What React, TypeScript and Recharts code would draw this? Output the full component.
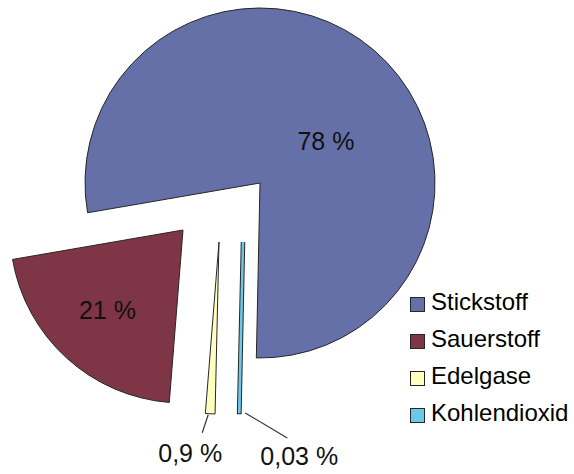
import { PieChart, Pie, Cell, Legend } from 'recharts'

const gases = ['Stickstoff', 'Sauerstoff', 'Edelgase', 'Kohlendioxid']
const shares = [78, 21, 0.9, 0.03]
const shareLabels = ['78 %', '21 %', '0,9 %', '0,03 %']

const colors = ['#6670A8', '#7E3545', '#FFFFBF', '#6CC8EA']
const outline = '#262626'
const font = '"Liberation Sans", Arial, sans-serif'

const data = gases.map((name, i) => ({ name, value: shares[i] }))

// each slice is pulled out on its own, so every slice has its own tip
const tips = [
  { x: 260, y: 183 },
  { x: 183, y: 230 },
  { x: 219, y: 242 },
  { x: 243, y: 242 },
]
const radii = [175, 173, 172, 170]

const START = -91.2
const RAD = Math.PI / 180

// big slices get the label inside (radius + turn away from the mid angle)
const inside: Record<number, { r: number; turn: number }> = {
  0: { r: 78, turn: -17 },
  1: { r: 110, turn: -1 },
}
// thin slices get a leader line from the rim down to the text
const leaders: Record<number, { sx: number; sy: number; ex: number; ey: number; tx: number; ty: number }> = {
  2: { sx: -2, sy: 1, ex: -8, ey: 19, tx: -12, ty: 29 },
  3: { sx: 6, sy: 1, ex: 48, ey: 26, tx: 12, ty: 27 },
}

const polar = (cx: number, cy: number, r: number, angle: number) => ({
  x: cx + Math.cos(-angle * RAD) * r,
  y: cy + Math.sin(-angle * RAD) * r,
})

const sliceLabel = (slice: number) => (props: any) => {
  const { cx, cy, midAngle, outerRadius, index } = props
  if (index !== slice) return null
  const inner = inside[slice]
  if (inner) {
    const p = polar(cx, cy, inner.r, midAngle + inner.turn)
    return (
      <text x={p.x} y={p.y} textAnchor="middle" dominantBaseline="central" fill="#111" fontSize={25} fontFamily={font}>
        {shareLabels[slice]}
      </text>
    )
  }
  const l = leaders[slice]
  const rim = polar(cx, cy, outerRadius, midAngle)
  const ex = rim.x + l.ex
  const ey = rim.y + l.ey
  return (
    <g>
      <line x1={rim.x + l.sx} y1={rim.y + l.sy} x2={ex} y2={ey} stroke="#333" strokeWidth={1.2} />
      <text x={ex + l.tx} y={ey + l.ty} textAnchor="middle" fill="#111" fontSize={25} fontFamily={font}>
        {shareLabels[slice]}
      </text>
    </g>
  )
}

const renderLegend = () => (
  <div style={{ fontFamily: font, fontSize: 24, color: '#000' }}>
    {gases.map((g, i) => (
      <div key={g} style={{ display: 'flex', alignItems: 'center', height: 37 }}>
        <span
          style={{
            display: 'inline-block',
            width: 13,
            height: 13,
            marginTop: 6,
            marginRight: 6,
            background: colors[i],
            border: `1.5px solid ${outline}`,
          }}
        />
        <span style={{ lineHeight: '37px', whiteSpace: 'nowrap' }}>{g}</span>
      </div>
    ))}
  </div>
)

export default function App() {
  return (
    <div style={{ position: 'absolute', left: 0, top: 0, width: 574, height: 474, background: '#fff' }}>
      <PieChart width={574} height={474} margin={{ top: 0, right: 0, bottom: 0, left: 0 }}>
        {gases.map((g, slice) => (
          <Pie
            key={g}
            data={data}
            dataKey="value"
            nameKey="name"
            cx={tips[slice].x}
            cy={tips[slice].y}
            outerRadius={radii[slice]}
            startAngle={START}
            endAngle={START + 360}
            isAnimationActive={false}
            labelLine={false}
            label={sliceLabel(slice)}
          >
            {data.map((d, i) => (
              <Cell
                key={d.name}
                fill={i === slice ? colors[i] : 'none'}
                stroke={i === slice ? outline : 'none'}
                strokeWidth={i === slice ? (i === 3 ? 4.5 : 1) : 0}
              />
            ))}
          </Pie>
        ))}
        {/* Kohlendioxid is far too thin to see, so it gets a coloured core over its outline */}
        <Pie
          data={data}
          dataKey="value"
          nameKey="name"
          cx={tips[3].x}
          cy={tips[3].y}
          outerRadius={radii[3]}
          startAngle={START}
          endAngle={START + 360}
          isAnimationActive={false}
          labelLine={false}
        >
          {data.map((d, i) => (
            <Cell key={d.name} fill={i === 3 ? colors[3] : 'none'} stroke={i === 3 ? colors[3] : 'none'} strokeWidth={i === 3 ? 2.5 : 0} />
          ))}
        </Pie>
        <Legend
          layout="vertical"
          align="right"
          verticalAlign="top"
          content={renderLegend}
          wrapperStyle={{ left: 410, top: 283, width: 164 }}
        />
      </PieChart>
    </div>
  )
}
